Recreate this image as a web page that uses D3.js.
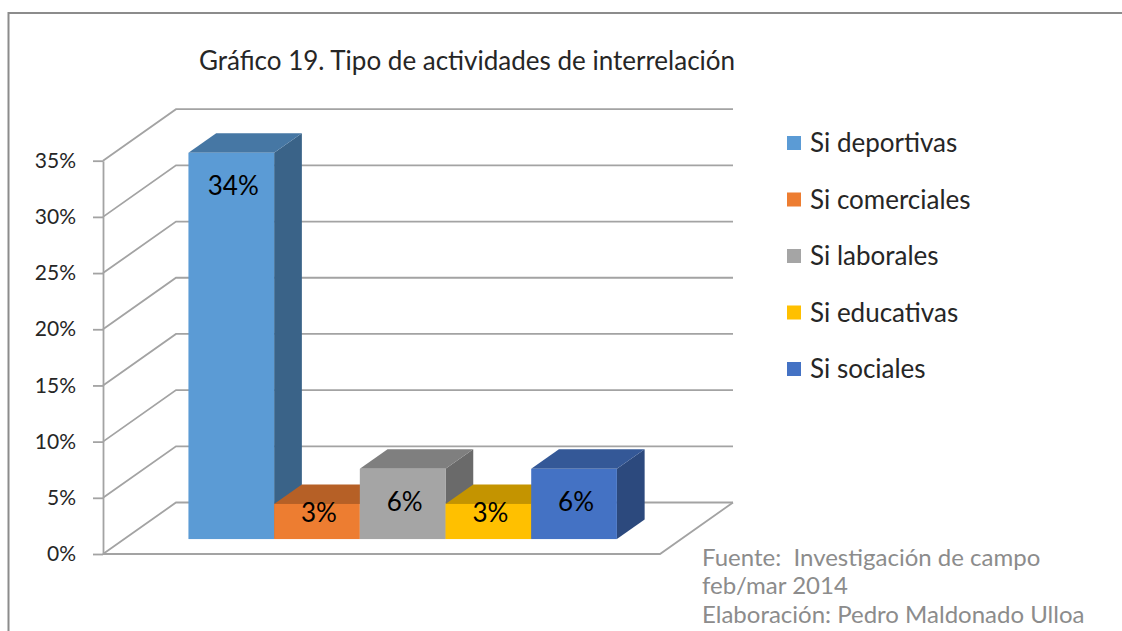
<!DOCTYPE html>
<html>
<head>
<meta charset="utf-8">
<script src="https://cdn.jsdelivr.net/npm/d3@7"></script>
<style>
  html, body { margin: 0; padding: 0; background: #fff; }
  svg { display: block; font-family: Lato, "Open Sans", sans-serif; }
</style>
</head>
<body>
<svg id="chart" width="1122" height="631"></svg>
<script>
// data (32 responses -> 11/32, 1/32, 2/32 ...)
var categories = ["Si deportivas", "Si comerciales", "Si laborales", "Si educativas", "Si sociales"];
var values = [0.34375, 0.03125, 0.0625, 0.03125, 0.0625];
var colors = ["#5B9BD5", "#ED7D31", "#A5A5A5", "#FFC000", "#4472C4"];
var yTicks = [0, 0.05, 0.10, 0.15, 0.20, 0.25, 0.30, 0.35];
var title = "Gráfico 19. Tipo de actividades de interrelación";
var notes = ["Fuente:  Investigación de campo", "feb/mar 2014", "Elaboración: Pedro Maldonado Ulloa"];

const width = 1122, height = 631;
const svg = d3.select("#chart");

// 3d box geometry
const axisX = 103, floorRight = 660;
const depthX = 73, depthY = -51.5;          // wall depth offset
const barFront = 0.29, barBack = 0.67;      // bar front/back plane as fraction of depth

const y = d3.scaleLinear().domain([0, 0.35]).range([554, 160.7]);
const x = d3.scaleBand().domain(categories)
    .range([axisX + depthX * barFront, floorRight + depthX * barFront])
    .paddingInner(0).paddingOuter(0.75);

const gridColor = "#a3a3a3";

// frame
svg.append("path")
    .attr("d", `M8.5,${height} V13 H${width}`)
    .attr("fill", "none")
    .attr("stroke", "#8c8c8c")
    .attr("stroke-width", 2);

// title
svg.append("text")
    .attr("x", 467).attr("y", 70)
    .attr("text-anchor", "middle")
    .attr("fill", "#262626")
    .attr("font-size", 26)
    .text(title);

// back wall gridlines + left wall diagonals
const grid = svg.append("g")
    .attr("fill", "none")
    .attr("stroke", gridColor)
    .attr("stroke-width", 1.8);

grid.selectAll("path.g")
    .data(yTicks)
    .join("path")
    .attr("d", t => `M${axisX},${y(t)} L${axisX + depthX},${y(t) + depthY} H${floorRight + depthX}`);

// floor
grid.append("path")
    .attr("d", `M${axisX},${y(0)} H${floorRight} L${floorRight + depthX},${y(0) + depthY}`);

// y axis
svg.append("g")
    .attr("transform", `translate(${axisX},0)`)
    .call(d3.axisLeft(y).tickValues(yTicks).tickFormat(d3.format(".0%"))
        .tickSize(10).tickSizeOuter(0).tickPadding(17))
    .call(g => g.select(".domain").attr("stroke", gridColor).attr("stroke-width", 1.8))
    .call(g => g.selectAll(".tick line").attr("stroke", gridColor).attr("stroke-width", 1.8))
    .call(g => g.selectAll(".tick text")
        .attr("fill", "#262626")
        .attr("font-size", 21)
        .attr("font-family", "Lato, 'Open Sans', sans-serif"));

// bars
const shade = (c, k) => {
    const r = d3.rgb(c);
    return d3.rgb(r.r * k, r.g * k, r.b * k).toString();
};
const offX = depthX * barFront, offY = depthY * barFront;
const dX = depthX * (barBack - barFront), dY = depthY * (barBack - barFront);

const bars = svg.append("g")
    .selectAll("g")
    .data(categories.map((c, i) => ({ cat: c, value: values[i], color: colors[i] })))
    .join("g");

bars.each(function (d) {
    const g = d3.select(this);
    const x0 = x(d.cat), x1 = x0 + x.bandwidth();
    const yb = y(0) + offY, yt = y(d.value) + offY;
    // right side
    g.append("path")
        .attr("d", `M${x1},${yb} V${yt} l${dX},${dY} V${yb + dY} Z`)
        .attr("fill", shade(d.color, 0.64));
    // top
    g.append("path")
        .attr("d", `M${x0},${yt} H${x1} l${dX},${dY} H${x0 + dX} Z`)
        .attr("fill", shade(d.color, 0.77));
    // front
    g.append("rect")
        .attr("x", x0).attr("y", yt)
        .attr("width", x.bandwidth()).attr("height", yb - yt)
        .attr("fill", d.color);
    // label
    g.append("text")
        .attr("x", (x0 + x1) / 2 + 2)
        .attr("y", Math.min(yt + 42, yb - 17))
        .attr("text-anchor", "middle")
        .attr("fill", "#000")
        .attr("font-size", 26)
        .text(d3.format(".0%")(d.value));
});

// legend
const legend = svg.append("g")
    .selectAll("g")
    .data(categories)
    .join("g")
    .attr("transform", (d, i) => `translate(787,${143 + i * 56.5})`);

legend.append("rect")
    .attr("x", 0).attr("y", -7)
    .attr("width", 14).attr("height", 14)
    .attr("fill", (d, i) => colors[i]);

legend.append("text")
    .attr("x", 23).attr("y", 9)
    .attr("fill", "#262626")
    .attr("font-size", 26)
    .text(d => d);

// source notes
svg.append("g")
    .selectAll("text")
    .data(notes)
    .join("text")
    .attr("x", 702)
    .attr("y", (d, i) => 566 + i * 28.3)
    .attr("fill", "#8c8c8c")
    .attr("font-size", 24)
    .attr("xml:space", "preserve")
    .text(d => d);
</script>
</body>
</html>
